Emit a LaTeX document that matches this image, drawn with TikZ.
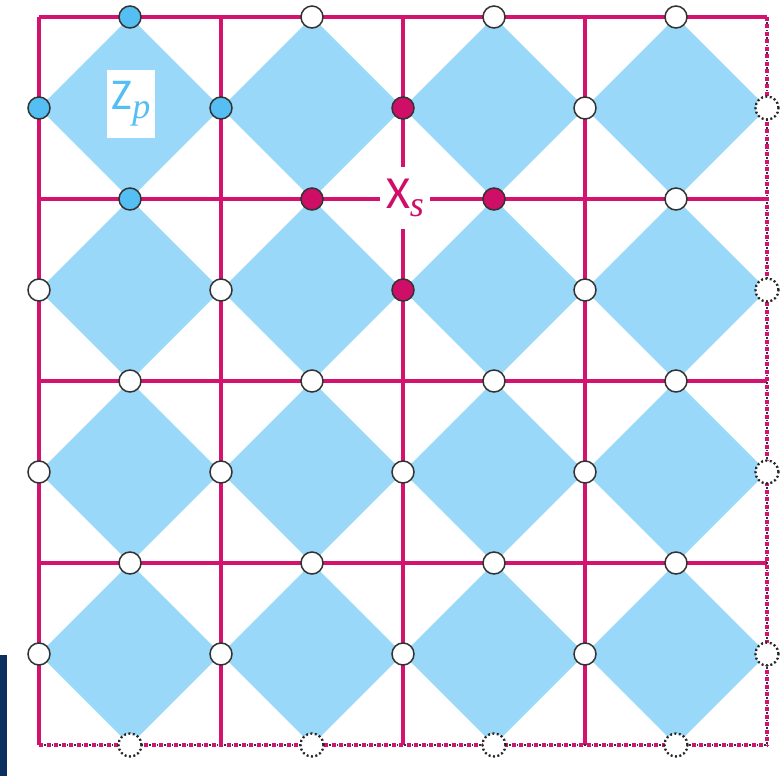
\documentclass[tikz,border=0pt]{standalone}
\usepackage{fontspec}
\setmainfont{Carlito}
\newfontfamily\subf{Liberation Serif}
\definecolor{mag}{HTML}{D3136F}
\definecolor{diam}{HTML}{9AD8FA}
\definecolor{zblue}{HTML}{55BFF3}
\definecolor{xmag}{HTML}{CF0F67}
\definecolor{navy}{HTML}{0B3060}
\definecolor{ring}{HTML}{333333}
\tikzset{
  gridline/.style={draw=mag, line width=3.6pt},
  edgedash/.style={draw=mag, line width=3.8pt, dash pattern=on 4pt off 3.5pt},
  edgedot/.style={draw=black!80, line width=1.6pt, dash pattern=on 1.6pt off 5.9pt, dash phase=2.2pt},
  plaq/.style={fill=diam},
  site/.style={circle, minimum size=22pt, inner sep=0pt, line width=1.5pt, draw=ring, fill=white},
  ghost/.style={circle, minimum size=23pt, inner sep=0pt, line width=2.3pt, draw=black!85, dash pattern=on 2pt off 2.4pt, fill=white},
  zsite/.style={fill=zblue},
  xsite/.style={fill=xmag},
  h00/.style={zsite}, h01/.style={zsite}, e00/.style={zsite}, e10/.style={zsite},
  e20/.style={xsite}, e21/.style={xsite}, h11/.style={xsite}, h21/.style={xsite},
  labelbox/.style={fill=white, inner sep=0pt}
}
\begin{document}
\begin{tikzpicture}[x=1pt,y=-1pt]
\useasboundingbox (0,0) rectangle (780,776);
\fill[navy] (0,655) rectangle (7,776);
% grid vertices
\foreach \i in {0,...,4}{
  \foreach \j in {0,...,4}{
    \coordinate (v\i\j) at ({39+182*\i},{17+182*\j});
  }
}
% plaquette diamonds
\foreach \i in {0,...,3}{
  \foreach \j in {0,...,3}{
    \fill[plaq] ({130+182*\i},{17+182*\j}) -- ++(91,91) -- ++(-91,91) -- ++(-91,-91) -- cycle;
  }
}
% solid lattice lines
\foreach \i in {0,...,3}{
  \draw[gridline] (v\i0) -- (v\i4);
  \draw[gridline] (v0\i) -- (v4\i);
}
% periodic boundary lines
\draw[edgedash] (v40) -- (v44);
\draw[edgedash] (v04) -- (v44);
\draw[edgedot] (v40) -- (v44);
\draw[edgedot] (v04) -- (v44);
% qubits on horizontal edges
\foreach \i in {0,...,3}{
  \foreach \j in {0,...,3}{
    \node[site, h\i\j/.try] (h\i\j) at ({130+182*\i},{17+182*\j}) {};
  }
  \node[ghost] (h\i4) at ({130+182*\i},745) {};
}
% qubits on vertical edges
\foreach \j in {0,...,3}{
  \foreach \i in {0,...,3}{
    \node[site, e\i\j/.try] (e\i\j) at ({39+182*\i},{108+182*\j}) {};
  }
  \node[ghost] (e4\j) at (767,{108+182*\j}) {};
}
% labels
\node[labelbox, minimum width=48pt, minimum height=68pt] (zp) at (131,104)
  {\color{zblue}\fontsize{44}{44}\selectfont Z\raisebox{-9pt}{\subf\itshape\fontsize{36}{36}\selectfont p}};
\node[labelbox, minimum width=50pt, minimum height=62pt] (xs) at (405,198)
  {\color{xmag}\fontsize{46}{46}\selectfont X\raisebox{-8pt}{\subf\itshape\fontsize{36}{36}\selectfont s}};
\end{tikzpicture}
\end{document}
